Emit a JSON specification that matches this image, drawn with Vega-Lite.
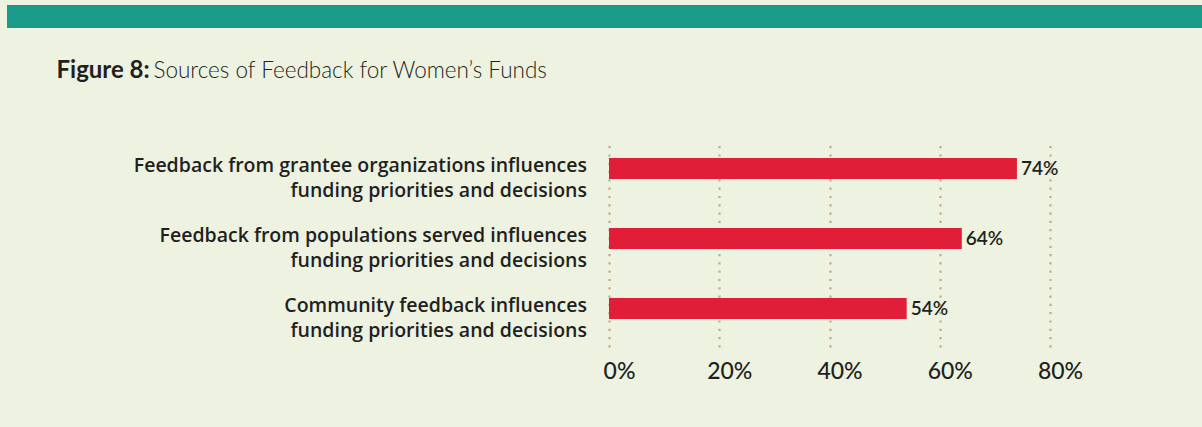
{
  "$schema": "https://vega.github.io/schema/vega-lite/v6.json",
  "background": "#edf3e0",
  "padding": {"left": 7, "top": 5, "right": 0, "bottom": 44},
  "spacing": 30,
  "config": {"view": {"stroke": null}, "font": "Lato"},
  "vconcat": [
    {
      "width": 1195,
      "height": 23,
      "view": {"fill": "#1a9b8a", "stroke": null},
      "data": {"values": [{"t": ""}]},
      "mark": {"type": "text"},
      "encoding": {"text": {"field": "t", "type": "nominal"}}
    },
    {
      "width": 1043,
      "height": 204,
      "data": {
        "values": [
          {"source": "Feedback from grantee organizations influences|funding priorities and decisions", "pct": 0.74},
          {"source": "Feedback from populations served influences|funding priorities and decisions", "pct": 0.64},
          {"source": "Community feedback influences|funding priorities and decisions", "pct": 0.54}
        ]
      },
      "encoding": {
        "y": {
          "field": "source",
          "type": "nominal",
          "sort": null,
          "scale": {"paddingInner": 0.7, "paddingOuter": 0.307, "align": 0.35},
          "axis": {
            "title": "Figure 8:",
            "titleX": 49,
            "titleY": -66,
            "titleAngle": 0,
            "titleAlign": "left",
            "titleAnchor": "start",
            "titleBaseline": "alphabetic",
            "titleFontSize": 24,
            "titleFontWeight": "bold",
            "titleColor": "#231f20",
            "labels": false,
            "domain": false,
            "ticks": false,
            "grid": false,
            "minExtent": 0,
            "maxExtent": 0
          }
        },
        "x": {
          "field": "pct",
          "type": "quantitative",
          "scale": {"domain": [0, 0.8], "range": [602, 1043], "nice": false},
          "axis": {
            "values": [0, 0.2, 0.4, 0.6, 0.8],
            "format": ".0%",
            "grid": true,
            "gridColor": "#c2ab86",
            "gridDash": [2.2, 6.1],
            "gridWidth": 2.2,
            "domain": false,
            "ticks": false,
            "tickSize": 0,
            "labelFlush": false,
            "labelFontSize": 23,
            "labelFontWeight": 500,
            "labelColor": "#231f20",
            "labelPadding": 13,
            "labelOffset": 10,
            "title": "Sources of Feedback for Women’s Funds",
            "titleX": 146,
            "titleY": -270,
            "titleAngle": 0,
            "titleAlign": "left",
            "titleAnchor": "start",
            "titleBaseline": "alphabetic",
            "titleFontSize": 22.5,
            "titleFontWeight": 300,
            "titleColor": "#231f20"
          }
        }
      },
      "layer": [
        {"mark": {"type": "bar", "color": "#e01e37"}},
        {
          "mark": {"type": "text", "align": "left", "baseline": "middle", "dx": 4, "fontSize": 19, "fontWeight": 600, "color": "#231f20"},
          "encoding": {"text": {"field": "pct", "type": "quantitative", "format": ".0%"}}
        },
        {
          "mark": {"type": "text", "align": "right", "baseline": "middle", "lineBreak": "|", "lineHeight": 25, "dx": -22, "dy": -3, "font": "Open Sans", "fontSize": 19.5, "fontWeight": 600, "color": "#231f20"},
          "encoding": {
            "x": {"datum": 0},
            "text": {"field": "source", "type": "nominal"}
          }
        }
      ]
    }
  ]
}
